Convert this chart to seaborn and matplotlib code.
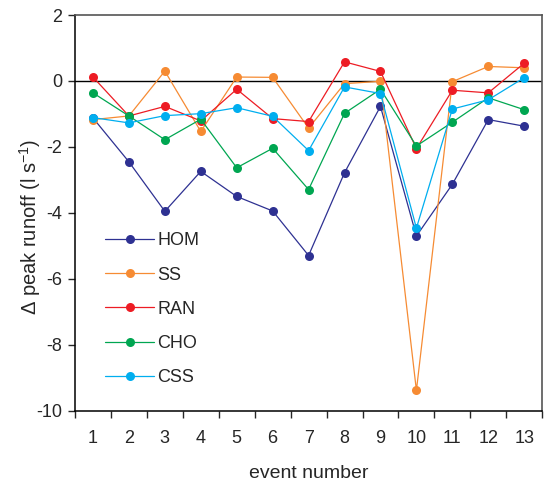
import numpy as np
import pandas as pd
import matplotlib
matplotlib.use('Agg')
import matplotlib.pyplot as plt
import seaborn as sns

sns.set_style('ticks')
plt.rcParams['font.family'] = ['Liberation Sans', 'DejaVu Sans']
plt.rcParams['axes.unicode_minus'] = False

# Data
events = list(range(1, 14))
hom = [-1.12, -2.45, -3.95, -2.74, -3.50, -3.94, -5.29, -2.78, -0.77, -4.70, -3.13, -1.17, -1.37]
ss = [-1.17, -1.06, 0.30, -1.53, 0.12, 0.11, -1.43, -0.08, -0.01, -9.38, -0.02, 0.44, 0.40]
ran = [0.12, -1.06, -0.77, -1.21, -0.25, -1.14, -1.23, 0.58, 0.29, -2.05, -0.28, -0.36, 0.54]
cho = [-0.36, -1.06, -1.78, -1.16, -2.63, -2.04, -3.29, -0.98, -0.25, -1.97, -1.25, -0.51, -0.87]
css = [-1.11, -1.27, -1.05, -0.99, -0.81, -1.07, -2.11, -0.18, -0.38, -4.46, -0.85, -0.57, 0.10]

series = ['HOM', 'SS', 'RAN', 'CHO', 'CSS']
colors = ['#2E3192', '#F68B33', '#ED1C24', '#00A651', '#00AEEF']

df = pd.DataFrame({
    'event': events * 5,
    'value': hom + ss + ran + cho + css,
    'treatment': np.repeat(series, len(events)),
})

fig = plt.figure(figsize=(5.49, 4.84), dpi=100)
ax = fig.add_axes([0.1366, 0.151, 0.851, 0.818])

ax.axhline(0, color='black', lw=1.0, zorder=1)

sns.lineplot(data=df, x='event', y='value', hue='treatment', hue_order=series,
             palette=colors, marker='o', markersize=6.5, markeredgewidth=0,
             linewidth=0.9, ax=ax, zorder=3)

ax.set_xlim(0.5, 13.5)
ax.set_ylim(-10, 2)
ax.set_yticks(np.arange(-10, 3, 2))
ax.set_xticks(events)
ax.set_xticks(np.arange(0.5, 14, 1), minor=True)
ax.tick_params(axis='x', which='major', length=0, pad=14, labelsize=13)
ax.tick_params(axis='x', which='minor', length=5, width=1, direction='out')
ax.tick_params(axis='y', length=5, width=1, direction='out', labelsize=13, pad=4)

for side in ['left', 'bottom']:
    ax.spines[side].set_color('black')
    ax.spines[side].set_linewidth(1.1)
for side in ['top', 'right']:
    ax.spines[side].set_color('#555555')
    ax.spines[side].set_linewidth(1.2)

ax.set_xlabel('event number', fontsize=14, labelpad=13)
ax.set_ylabel('Δ peak runoff (l s$^{\\mathregular{-1}}$)', fontsize=14.5)
ax.yaxis.set_label_coords(-0.068, 0.465)

handles, labels = ax.get_legend_handles_labels()
ax.legend(handles, labels, loc='upper left', bbox_to_anchor=(0.03, 0.492),
          frameon=False, fontsize=13, handlelength=2.7, labelspacing=0.95,
          handletextpad=0.2)

fig.savefig('out.png', dpi=100)
